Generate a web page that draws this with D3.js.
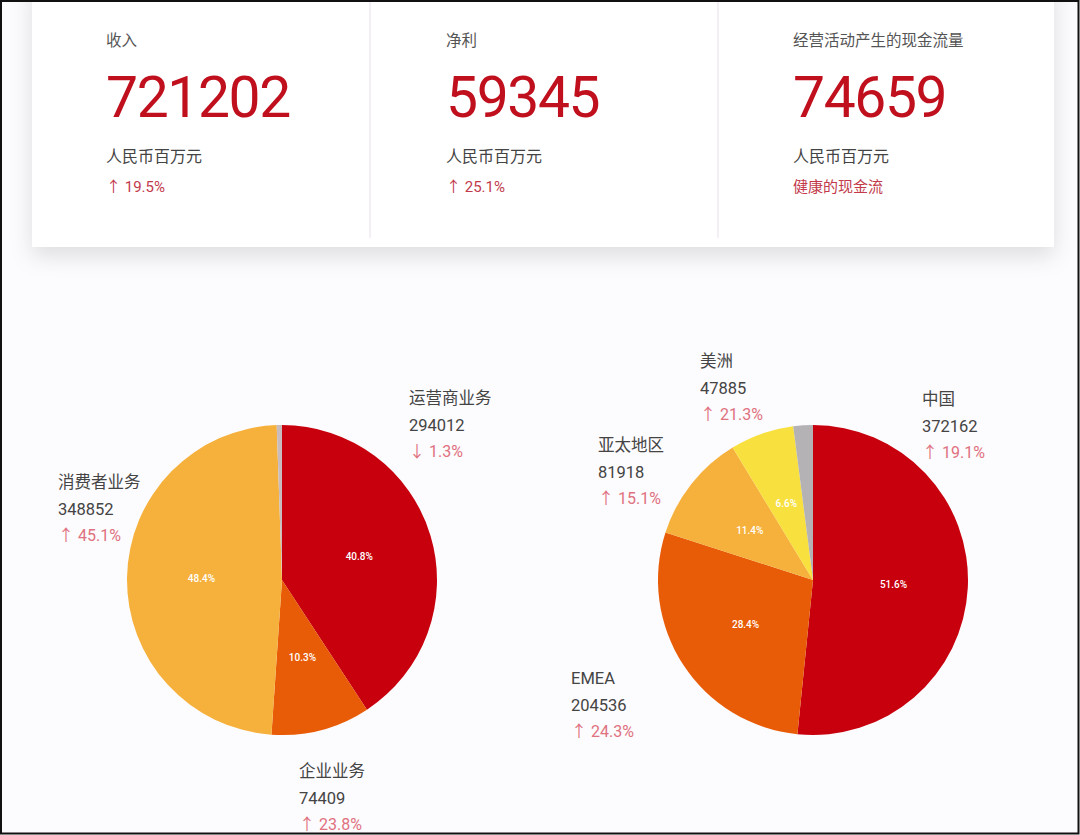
<!DOCTYPE html>
<html><head><meta charset="utf-8">
<script src="https://cdn.jsdelivr.net/npm/d3@7"></script>
<style>
html,body{margin:0;padding:0;background:#fff;}
svg{display:block;}
text{font-family:Roboto,"Noto Sans CJK SC",sans-serif;}
</style></head>
<body>
<svg id="chart" width="1080" height="835"></svg>
<script>
// ---- data ----
const kpiTitles = ["收入", "净利", "经营活动产生的现金流量"];
const kpiValues = [721202, 59345, 74659];
const kpiUnits = ["人民币百万元", "人民币百万元", "人民币百万元"];
const kpiNotes = ["↑ 19.5%", "↑ 25.1%", "健康的现金流"];

const bizNames = ["运营商业务", "企业业务", "消费者业务", "其他"];
const bizValues = [294012, 74409, 348852, 3929];
const bizChanges = ["↓ 1.3%", "↑ 23.8%", "↑ 45.1%", ""];
const bizPercents = ["40.8%", "10.3%", "48.4%", ""];

const regionNames = ["中国", "EMEA", "亚太地区", "美洲", "其他"];
const regionValues = [372162, 204536, 81918, 47885, 14701];
const regionChanges = ["↑ 19.1%", "↑ 24.3%", "↑ 15.1%", "↑ 21.3%", ""];
const regionPercents = ["51.6%", "28.4%", "11.4%", "6.6%", ""];

// ---- layout / style ----
const W = 1080, H = 835;
const svg = d3.select("#chart");
const bizColors = ["#c8000e", "#e85c07", "#f6b13c", "#c9bcbf"];
const regionColors = ["#c8000e", "#e85c07", "#f6b13c", "#f8e03e", "#b4b2b4"];

svg.append("rect").attr("width", W).attr("height", H).attr("fill", "#fcfbfd");

const defs = svg.append("defs");
const f = defs.append("filter").attr("id", "sh").attr("x", "-10%").attr("y", "-10%").attr("width", "120%").attr("height", "140%");
f.append("feDropShadow").attr("dx", 0).attr("dy", 9).attr("stdDeviation", 11).attr("flood-color", "#000").attr("flood-opacity", 0.12);

// KPI card
svg.append("rect").attr("x", 32).attr("y", -20).attr("width", 1022).attr("height", 267)
  .attr("fill", "#fff").attr("filter", "url(#sh)");
[370, 718].forEach(x => svg.append("line").attr("x1", x).attr("x2", x).attr("y1", 0).attr("y2", 238)
  .attr("stroke", "#ece4ec").attr("stroke-width", 1.2));

const colX = [106, 446, 793];
const kpi = svg.append("g").selectAll("g").data(kpiTitles).join("g")
  .attr("transform", (d, i) => `translate(${colX[i]},0)`);
kpi.append("text").attr("y", 46).attr("font-size", 15.5).attr("fill", "#555").text(d => d);
kpi.append("text").attr("y", 117).attr("font-size", 57).attr("fill", "#c0101e")
  .attr("letter-spacing", -1.4).text((d, i) => kpiValues[i]);
kpi.append("text").attr("y", 162).attr("font-size", 16).attr("fill", "#444").text((d, i) => kpiUnits[i]);
kpi.append("text").attr("y", 192).attr("font-size", 15).attr("fill", "#c23a4c").text((d, i) => kpiNotes[i]);

// pies
function drawPie(cx, cy, r, values, colors, percents, names, changes, labelPos) {
  const pie = d3.pie().sort(null).value(d => d)(values);
  const arc = d3.arc().innerRadius(0).outerRadius(r);
  const lab = d3.arc().innerRadius(r * 0.52).outerRadius(r * 0.52);
  const g = svg.append("g").attr("transform", `translate(${cx},${cy})`);
  g.selectAll("path").data(pie).join("path")
    .attr("d", arc).attr("fill", (d, i) => colors[i]);
  g.selectAll("text.pct").data(pie).join("text").attr("class", "pct")
    .attr("transform", d => `translate(${lab.centroid(d)})`)
    .attr("text-anchor", "middle").attr("dy", "0.35em")
    .attr("font-size", 10).attr("font-weight", 500).attr("fill", "#fff")
    .text((d, i) => percents[i]);
  // outer labels
  names.forEach((n, i) => {
    const p = labelPos[i];
    if (!p) return;
    const t = svg.append("g").attr("transform", `translate(${p[0]},${p[1]})`);
    t.append("text").attr("y", 0).attr("font-size", 16.5).attr("fill", "#444").text(n);
    t.append("text").attr("y", 27).attr("font-size", 16.5).attr("fill", "#444").text(values[i]);
    t.append("text").attr("y", 53).attr("font-size", 16).attr("fill", "#e0717f").text(changes[i]);
  });
}

drawPie(282, 580, 155, bizValues, bizColors, bizPercents, bizNames, bizChanges,
  [[409, 404], [299, 777], [58, 488], null]);
drawPie(813, 580, 155, regionValues, regionColors, regionPercents, regionNames, regionChanges,
  [[922, 405], [571, 684], [598, 451], [700, 367], null]);

// frame
svg.append("rect").attr("x", 1).attr("y", 1).attr("width", W - 2.5).attr("height", H - 2.5)
  .attr("fill", "none").attr("stroke", "#111").attr("stroke-width", 2);
</script>
</body></html>
